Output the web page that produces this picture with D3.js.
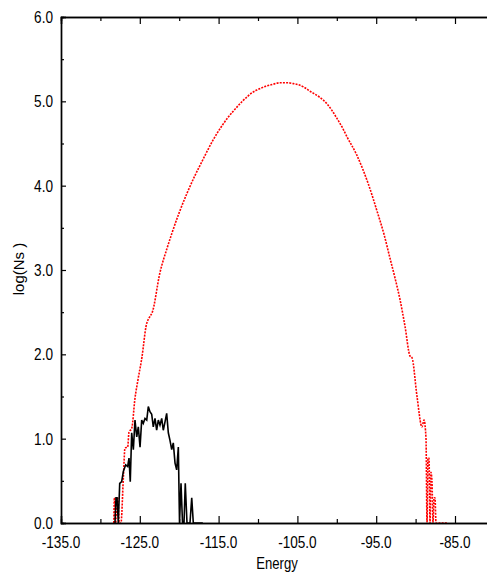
<!DOCTYPE html>
<html>
<head>
<meta charset="utf-8">
<script src="https://cdn.jsdelivr.net/npm/d3@7"></script>
<style>
  body { margin: 0; background: #fff; }
  text { font-family: "Liberation Sans", Arial, sans-serif; fill: #000; }
</style>
</head>
<body>
<div id="chart"></div>
<script>
// red dotted curve (all states)
var redEnergy = [-128.30, -128.22, -128.05, -127.92, -127.80, -127.60, -127.39, -127.09, -126.88, -126.54,
  -126.37, -126.03, -125.61, -125.23, -124.72, -124.21, -123.71, -123.45, -122.44, -121.50,
  -120.91, -120.00, -119.01, -118.00, -117.36, -116.50, -115.71, -114.50, -113.80, -113.17,
  -112.50, -112.00, -111.30, -110.63, -110.00, -109.00, -108.20, -107.21, -106.60, -106.19,
  -105.50, -105.00, -104.20, -103.40, -102.20, -101.24, -100.60, -100.00, -99.30, -98.71,
  -97.50, -96.68, -96.00, -94.90, -94.00, -93.25, -92.60, -91.98, -91.34, -90.71,
  -90.46, -89.82, -89.19, -88.93, -88.68, -88.55, -88.43, -88.30, -88.17, -88.05,
  -87.92, -87.79, -87.66, -87.54, -87.41, -86.00];
var redLog = [0, 0.30, 0, 0.30, 0.30, 0, 0, 0.53, 0.89, 0.90,
  1.08, 1.12, 1.48, 1.70, 1.97, 2.33, 2.45, 2.49, 2.97, 3.27,
  3.44, 3.68, 3.91, 4.12, 4.24, 4.40, 4.54, 4.72, 4.81, 4.88,
  4.95, 5.00, 5.06, 5.11, 5.14, 5.18, 5.20, 5.22, 5.22, 5.22,
  5.21, 5.20, 5.17, 5.12, 5.05, 4.97, 4.89, 4.80, 4.69, 4.58,
  4.37, 4.19, 4.02, 3.70, 3.42, 3.14, 2.90, 2.65, 2.33, 1.98,
  1.96, 1.50, 1.14, 1.22, 1.00, 0, 0.77, 0.77, 0, 0.60,
  0.49, 0, 0.30, 0.30, 0, 0];

// black noisy line (ground states)
var blackEnergy = [-128.15, -128.02, -127.89, -127.73, -127.55, -127.30, -127.09, -126.79, -126.54, -126.37,
  -126.21, -126.03, -125.82, -125.61, -125.39, -125.19, -124.97, -124.76, -124.56, -124.34,
  -124.12, -123.92, -123.71, -123.49, -123.29, -123.07, -122.86, -122.65, -122.44, -122.22,
  -122.02, -121.80, -121.59, -121.38, -121.17, -120.95, -120.75, -120.53, -120.32, -120.11,
  -119.96, -119.77, -119.58, -119.39, -119.23, -119.01, -118.63, -118.41, -118.21, -117.00];
var blackLog = [0, 0.30, 0.30, 0, 0.47, 0.49, 0.61, 0.69, 0.67, 0.77,
  0.49, 1.07, 0.87, 1.22, 1.02, 1.14, 0.90, 1.22, 1.18, 1.24,
  1.22, 1.38, 1.32, 1.29, 1.14, 1.24, 1.10, 1.22, 1.16, 1.24,
  1.10, 1.20, 1.30, 1.07, 0.98, 0.87, 0.95, 0.71, 0.63, 0.90,
  0, 0.47, 0, 0, 0.47, 0, 0, 0.30, 0, 0];

var xMajor = [-135, -125, -115, -105, -95, -85];
var yMajor = [0, 1, 2, 3, 4, 5, 6];

var W = 487, H = 575;
var mLeft = 61, mTop = 17, mBottom = 523;

var x = d3.scaleLinear().domain([-135, -80]).range([mLeft, mLeft + 55 * 7.88]);
var y = d3.scaleLinear().domain([0, 6]).range([mBottom, mTop]);

var svg = d3.select("#chart").append("svg")
    .attr("width", W)
    .attr("height", H);

// curves
var redPts = redEnergy.map(function(e, i) { return [e, redLog[i]]; });
var blackPts = blackEnergy.map(function(e, i) { return [e, blackLog[i]]; });
var line = d3.line().x(function(d) { return x(d[0]); }).y(function(d) { return y(d[1]); });

svg.append("path")
    .datum(redPts)
    .attr("d", line.curve(d3.curveMonotoneX))
    .attr("fill", "none")
    .attr("stroke", "#ff0000")
    .attr("stroke-width", 1.6)
    .attr("stroke-dasharray", "2,1.2");

svg.append("path")
    .datum(blackPts)
    .attr("d", line.curve(d3.curveLinear))
    .attr("fill", "none")
    .attr("stroke", "#000")
    .attr("stroke-width", 1.6)
    .attr("stroke-linejoin", "miter");

// axes (ticks inward)
var xMinor = d3.range(-130, -80, 10);
var yMinor = d3.range(0.5, 6, 1);

var xAxisB = d3.axisTop(x).tickValues(xMajor).tickSize(7).tickFormat("");
var xAxisBm = d3.axisTop(x).tickValues(xMinor).tickSize(4).tickFormat("");
var xAxisT = d3.axisBottom(x).tickValues(xMajor).tickSize(7).tickFormat("");
var xAxisTm = d3.axisBottom(x).tickValues(xMinor).tickSize(4).tickFormat("");
var yAxisL = d3.axisRight(y).tickValues(yMajor).tickSize(5).tickFormat("");
var yAxisLm = d3.axisRight(y).tickValues(yMinor).tickSize(3).tickFormat("");

[[xAxisB, "translate(0," + mBottom + ")"], [xAxisBm, "translate(0," + mBottom + ")"],
 [xAxisT, "translate(0," + mTop + ")"], [xAxisTm, "translate(0," + mTop + ")"],
 [yAxisL, "translate(" + mLeft + ",0)"], [yAxisLm, "translate(" + mLeft + ",0)"]].forEach(function(a) {
  var g = svg.append("g").attr("transform", a[1]).call(a[0]);
  g.selectAll("path.domain").attr("stroke", "#000").attr("stroke-width", 1.4);
  g.selectAll(".tick line").attr("stroke", "#000").attr("stroke-width", 1.2);
});

// tick labels, a bit narrow like the original
svg.selectAll(".xlab")
    .data(xMajor)
  .enter().append("text")
    .attr("class", "xlab")
    .attr("transform", function(d) { return "translate(" + x(d) + ",548) scale(0.85,1)"; })
    .attr("text-anchor", "middle")
    .style("font-size", "16px")
    .text(function(d) { return d3.format(".1f")(d).replace("−", "-"); });

svg.selectAll(".ylab")
    .data(yMajor)
  .enter().append("text")
    .attr("class", "ylab")
    .attr("transform", function(d) { return "translate(53," + (y(d) + 6) + ") scale(0.85,1)"; })
    .attr("text-anchor", "end")
    .style("font-size", "16px")
    .text(function(d) { return d3.format(".1f")(d); });

svg.append("text")
    .attr("transform", "translate(277,569) scale(0.82,1)")
    .attr("text-anchor", "middle")
    .style("font-size", "16px")
    .text("Energy");

svg.append("text")
    .attr("transform", "translate(24,269) rotate(-90)")
    .attr("text-anchor", "middle")
    .style("font-size", "15px")
    .text("log(Ns )");
</script>
</body>
</html>
